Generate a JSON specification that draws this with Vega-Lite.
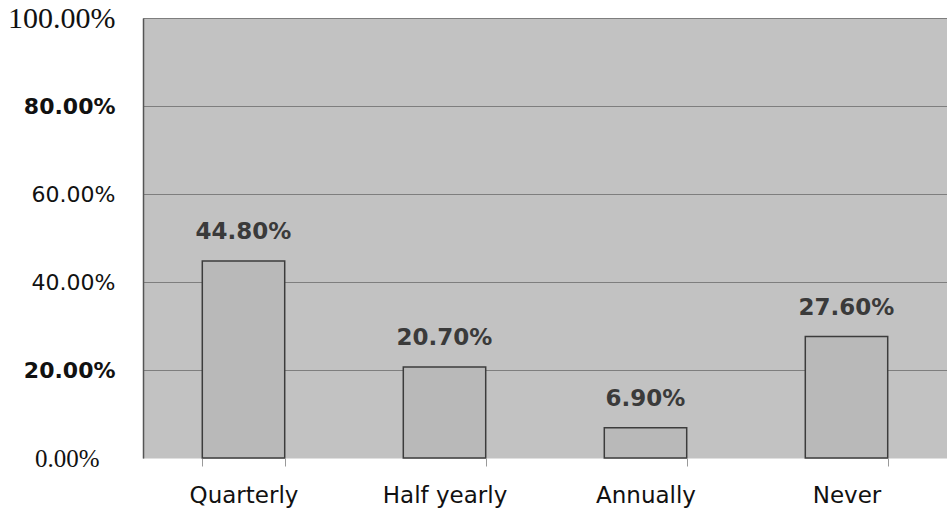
{
  "$schema": "https://vega.github.io/schema/vega-lite/v6.json",
  "width": 804,
  "height": 440,
  "autosize": "none",
  "padding": {"left": 143, "top": 18, "right": 0, "bottom": 54},
  "background": "white",
  "view": {"fill": "#c2c2c2", "stroke": null},
  "data": {
    "values": [
      {"frequency": "Quarterly", "share": 0.448},
      {"frequency": "Half yearly", "share": 0.207},
      {"frequency": "Annually", "share": 0.069},
      {"frequency": "Never", "share": 0.276}
    ]
  },
  "encoding": {
    "x": {
      "field": "frequency",
      "type": "nominal",
      "sort": null,
      "scale": {"paddingInner": 0.59, "paddingOuter": 0.295},
      "axis": {
        "title": null,
        "labelAngle": 0,
        "labelFont": "DejaVu Sans",
        "labelFontSize": 23,
        "labelColor": "#111111",
        "labelPadding": 18,
        "tickBand": "extent",
        "ticks": true,
        "tickSize": 8,
        "tickColor": "#9a9a9a",
        "domain": true,
        "domainColor": "#e0e0e0",
        "grid": false
      }
    },
    "y": {
      "field": "share",
      "type": "quantitative",
      "scale": {"domain": [0, 1], "nice": false},
      "axis": {
        "title": null,
        "values": [0, 0.2, 0.4, 0.6, 0.8, 1],
        "format": ".2%",
        "ticks": false,
        "domain": true,
        "domainColor": "#555555",
        "domainWidth": 1.5,
        "grid": true,
        "gridColor": "#7e7e7e",
        "gridWidth": 1,
        "labelPadding": {
          "condition": {"test": "datum.value == 0", "value": 44},
          "value": 28
        },
        "labelColor": "#111111",
        "labelFont": {
          "condition": {"test": "datum.value == 0 || datum.value == 1", "value": "Liberation Serif"},
          "value": "DejaVu Sans"
        },
        "labelFontSize": {
          "condition": [
            {"test": "datum.value == 1", "value": 30},
            {"test": "datum.value == 0", "value": 25}
          ],
          "value": 22
        },
        "labelFontWeight": {
          "condition": {"test": "datum.value == 0.8 || datum.value == 0.2", "value": "bold"},
          "value": "normal"
        }
      }
    }
  },
  "layer": [
    {
      "mark": {"type": "bar", "fill": "#b9b9b9", "stroke": "#3c3c3c", "strokeWidth": 1.5}
    },
    {
      "mark": {
        "type": "text",
        "baseline": "bottom",
        "dy": -17,
        "font": "DejaVu Sans",
        "fontWeight": "bold",
        "fontSize": 23,
        "color": "#3a3a3a"
      },
      "encoding": {
        "text": {"field": "share", "type": "quantitative", "format": ".2%"}
      }
    }
  ]
}
